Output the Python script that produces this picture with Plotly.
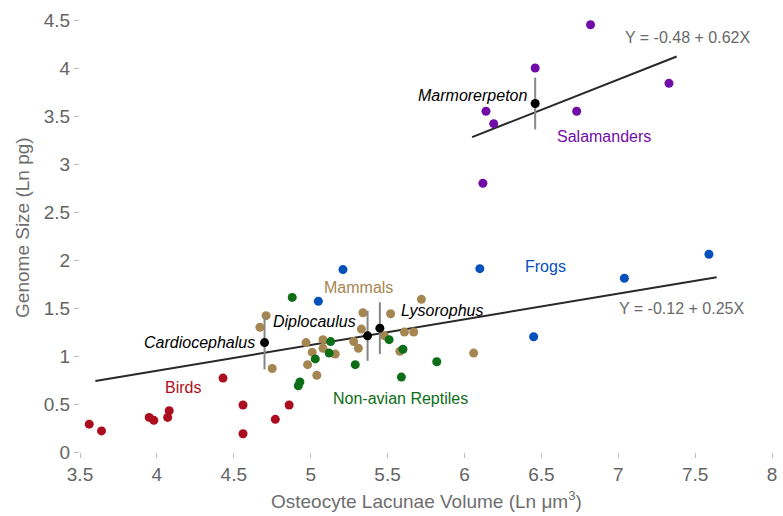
import plotly.graph_objects as go

# ---- data ----
birds_x = [3.56, 3.64, 3.95, 3.98, 4.08, 4.07, 4.43, 4.56, 4.56, 4.77, 4.86]
birds_y = [0.29, 0.22, 0.36, 0.33, 0.43, 0.36, 0.77, 0.49, 0.19, 0.34, 0.49]

mammals_x = [4.71, 4.67, 4.75, 4.97, 5.01, 4.98, 5.04, 5.08, 5.08, 5.16, 5.34, 5.33,
             5.28, 5.31, 5.72, 5.52, 5.48, 5.61, 5.67, 5.58, 6.06]
mammals_y = [1.42, 1.30, 0.87, 1.14, 1.04, 0.91, 0.80, 1.17, 1.08, 1.02, 1.45, 1.28,
             1.15, 1.08, 1.59, 1.44, 1.21, 1.25, 1.25, 1.05, 1.03]

reptiles_x = [4.88, 5.13, 5.03, 5.12, 5.29, 4.93, 4.92, 5.51, 5.60, 5.82, 5.59]
reptiles_y = [1.61, 1.15, 0.97, 1.03, 0.91, 0.73, 0.69, 1.17, 1.07, 0.94, 0.78]

frogs_x = [7.59, 6.10, 7.04, 6.45, 5.21, 5.05]
frogs_y = [2.06, 1.91, 1.81, 1.20, 1.90, 1.57]

salam_x = [6.82, 6.46, 7.33, 6.14, 6.19, 6.73, 6.12]
salam_y = [4.45, 4.00, 3.84, 3.55, 3.42, 3.55, 2.80]

fossil_names = ["Cardiocephalus", "Diplocaulus", "Lysorophus", "Marmorerpeton"]
fossil_x = [4.70, 5.37, 5.45, 6.46]
fossil_y = [1.14, 1.21, 1.29, 3.63]
fossil_err = [0.28, 0.26, 0.27, 0.27]

fit_all_x = [3.60, 7.64]
fit_all_y = [0.74, 1.82]
fit_sal_x = [6.05, 7.38]
fit_sal_y = [3.28, 4.12]

xticks = [3.5, 4, 4.5, 5, 5.5, 6, 6.5, 7, 7.5, 8]
yticks = [0, 0.5, 1, 1.5, 2, 2.5, 3, 3.5, 4, 4.5]

# ---- styles ----
C_RED = "rgb(172,14,32)"
C_TAN = "rgb(166,134,80)"
C_GREEN = "rgb(12,110,22)"
C_BLUE = "rgb(4,80,188)"
C_PURPLE = "rgb(114,12,168)"
C_GRAY = "rgb(105,105,105)"
FONT = "Liberation Sans, Arial, sans-serif"

fig = go.Figure()

fig.add_trace(go.Scatter(x=fit_all_x, y=fit_all_y, mode="lines",
                         line=dict(color="rgb(40,40,40)", width=2)))
fig.add_trace(go.Scatter(x=fit_sal_x, y=fit_sal_y, mode="lines",
                         line=dict(color="rgb(40,40,40)", width=2)))

for xs, ys, c in [(birds_x, birds_y, C_RED), (mammals_x, mammals_y, C_TAN),
                  (reptiles_x, reptiles_y, C_GREEN), (frogs_x, frogs_y, C_BLUE),
                  (salam_x, salam_y, C_PURPLE)]:
    fig.add_trace(go.Scatter(x=xs, y=ys, mode="markers",
                             marker=dict(color=c, size=9, line=dict(width=0))))

fig.add_trace(go.Scatter(x=fossil_x, y=fossil_y, mode="markers",
                         marker=dict(color="black", size=9),
                         error_y=dict(type="data", array=fossil_err, visible=True,
                                      color="rgb(135,135,135)", thickness=2, width=0)))

annotations = [
    dict(text="Y = -0.48 + 0.62X", x=7.45, y=4.32, color=C_GRAY, xanchor="center", italic=False),
    dict(text="Salamanders", x=6.91, y=3.29, color=C_PURPLE, xanchor="center", italic=False),
    dict(text="Marmorerpeton", x=6.42, y=3.71, color="black", xanchor="right", italic=True),
    dict(text="Frogs", x=6.53, y=1.93, color=C_BLUE, xanchor="center", italic=False),
    dict(text="Y = -0.12 + 0.25X", x=7.41, y=1.50, color=C_GRAY, xanchor="center", italic=False),
    dict(text="Mammals", x=5.31, y=1.71, color=C_TAN, xanchor="center", italic=False),
    dict(text="Lysorophus", x=5.575, y=1.47, color="black", xanchor="left", italic=True),
    dict(text="Diplocaulus", x=5.31, y=1.36, color="black", xanchor="right", italic=True),
    dict(text="Cardiocephalus", x=4.65, y=1.14, color="black", xanchor="right", italic=True),
    dict(text="Birds", x=4.17, y=0.67, color=C_RED, xanchor="center", italic=False),
    dict(text="Non-avian Reptiles", x=5.585, y=0.555, color=C_GREEN, xanchor="center", italic=False),
]
for a in annotations:
    fig.add_annotation(x=a["x"], y=a["y"], xref="x", yref="y",
                       text=("<i>%s</i>" % a["text"]) if a["italic"] else a["text"],
                       showarrow=False, xanchor=a["xanchor"], yanchor="middle",
                       font=dict(family=FONT, size=16, color=a["color"]))

# axis titles
fig.add_annotation(x=0.5, y=-0.11, xref="paper", yref="paper",
                   text="Osteocyte Lacunae Volume (Ln \u03bcm<sup>3</sup>)",
                   showarrow=False, xanchor="center", yanchor="middle",
                   font=dict(family=FONT, size=19, color="rgb(110,110,110)"))
fig.add_annotation(x=-0.083, y=0.52, xref="paper", yref="paper",
                   text="Genome Size (Ln pg)", textangle=-90,
                   showarrow=False, xanchor="center", yanchor="middle",
                   font=dict(family=FONT, size=19, color="rgb(110,110,110)"))

fig.update_layout(
    width=783, height=516,
    margin=dict(l=80, r=6, t=20, b=64),
    paper_bgcolor="white", plot_bgcolor="white",
    showlegend=False,
    font=dict(family=FONT, size=19, color="rgb(100,100,100)"),
)
fig.update_xaxes(range=[3.5, 8], tickvals=xticks, ticktext=[f"{v:g}" for v in xticks],
                 showgrid=False, zeroline=False, showline=False,
                 ticks="outside", ticklen=5, tickwidth=1, tickcolor="rgb(190,190,190)")
fig.update_yaxes(range=[0, 4.5], tickvals=yticks, ticktext=[f"{v:g}" for v in yticks],
                 showgrid=False, zeroline=False, showline=False,
                 ticks="outside", ticklen=5, tickwidth=1, tickcolor="rgb(190,190,190)")

fig.write_html("out.html", config={"displayModeBar": False},
               post_script="document.body.style.margin='0';")
